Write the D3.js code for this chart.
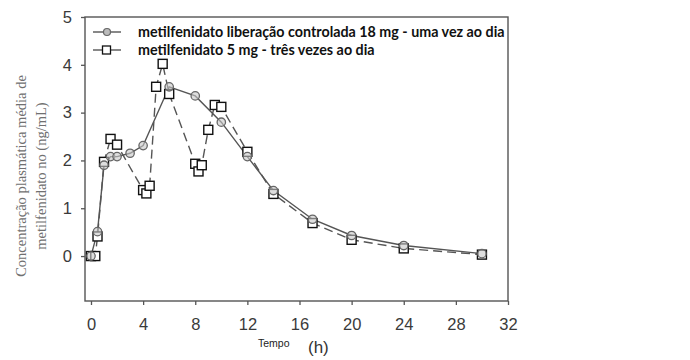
<!DOCTYPE html>
<html><head><meta charset="utf-8">
<script src="https://cdn.jsdelivr.net/npm/d3@7"></script>
<style>body{margin:0;background:#fff}svg{display:block}</style>
</head><body>
<script>
const timesCR = [0, 0.5, 1, 1.5, 2, 3, 4, 6, 8, 10, 12, 14, 17, 20, 24, 30];
const valuesCR = [0, 0.51, 1.9, 2.08, 2.08, 2.15, 2.31, 3.54, 3.35, 2.8, 2.08, 1.37, 0.77, 0.43, 0.22, 0.05];
const timesIR = [0, 0.33, 0.5, 1, 1.5, 2, 4, 4.25, 4.5, 5, 5.5, 6, 8, 8.25, 8.5, 9, 9.5, 10, 12, 14, 17, 20, 24, 30];
const valuesIR = [0, 0, 0.41, 1.97, 2.45, 2.33, 1.38, 1.31, 1.47, 3.54, 4.02, 3.39, 1.93, 1.77, 1.9, 2.64, 3.16, 3.12, 2.18, 1.3, 0.69, 0.34, 0.16, 0.03];
const xTicks = [0, 4, 8, 12, 16, 20, 24, 28, 32];
const yTicks = [0, 1, 2, 3, 4, 5];
const legendLabels = ["metilfenidato liberação controlada 18 mg - uma vez ao dia", "metilfenidato 5 mg - três vezes ao dia"];
const yTitleLines = ["Concentração plasmática média de", "metilfenidato no (ng/mL)"];
const xTitleMain = "Tempo";
const xTitleUnit = "(h)";

const W = 690, H = 360;
const L = 85, R = 508, T = 17, B = 301;
const svg = d3.select("body").append("svg").attr("width", W).attr("height", H);
const x = d3.scaleLinear().domain([-0.46, 32]).range([L, R]);
const y = d3.scaleLinear().domain([-0.94, 5]).range([B, T]);

// frame
svg.append("rect").attr("x", L).attr("y", T).attr("width", R - L).attr("height", B - T)
  .attr("fill", "none").attr("stroke", "#555").attr("stroke-width", 1.4);

// axes
const xAxis = svg.append("g").attr("transform", `translate(0,${B})`)
  .call(d3.axisBottom(x).tickValues(xTicks).tickSize(4).tickPadding(13).tickFormat(d3.format("d")));
const yAxis = svg.append("g").attr("transform", `translate(${L},0)`)
  .call(d3.axisLeft(y).tickValues(yTicks).tickSize(4).tickPadding(9).tickFormat(d3.format("d")));
[xAxis, yAxis].forEach(g => {
  g.select(".domain").remove();
  g.selectAll("line").attr("stroke", "#555").attr("stroke-width", 1.3);
  g.selectAll("text").attr("font-family", "'Liberation Sans', Arial, sans-serif")
    .attr("font-size", 16.5).attr("fill", "#3a3a3a");
});

// lines
const lineCR = d3.line().x((d, i) => x(timesCR[i])).y(d => y(d));
const lineIR = d3.line().x((d, i) => x(timesIR[i])).y(d => y(d));
svg.append("path").attr("d", lineIR(valuesIR)).attr("fill", "none")
  .attr("stroke", "#555").attr("stroke-width", 1.4).attr("stroke-dasharray", "9,5");
svg.append("path").attr("d", lineCR(valuesCR)).attr("fill", "none")
  .attr("stroke", "#555").attr("stroke-width", 1.4);

// markers
svg.append("g").selectAll("rect").data(valuesIR).join("rect")
  .attr("x", (d, i) => x(timesIR[i]) - 4.5).attr("y", d => y(d) - 4.5)
  .attr("width", 9).attr("height", 9).attr("fill", "#fff")
  .attr("stroke", "#111").attr("stroke-width", 1.4);
svg.append("g").selectAll("circle").data(valuesCR).join("circle")
  .attr("cx", (d, i) => x(timesCR[i])).attr("cy", d => y(d)).attr("r", 4.2)
  .attr("fill", "#c8c8c8").attr("fill-opacity", 0.6).attr("stroke", "#666").attr("stroke-width", 1.3);

// legend
const leg = svg.append("g");
const rowsY = [32, 50];
legendLabels.forEach((lab, i) => {
  const yy = rowsY[i];
  leg.append("line").attr("x1", 93).attr("x2", 121).attr("y1", yy).attr("y2", yy)
    .attr("stroke", "#555").attr("stroke-width", 1.4);
  if (i === 0) {
    leg.append("circle").attr("cx", 107).attr("cy", yy).attr("r", 3.5)
      .attr("fill", "#bbb").attr("stroke", "#666").attr("stroke-width", 1.2);
  } else {
    leg.append("rect").attr("x", 102.5).attr("y", yy - 4).attr("width", 8).attr("height", 8)
      .attr("fill", "#fff").attr("stroke", "#111").attr("stroke-width", 1.3);
  }
  leg.append("text").attr("x", 138).attr("y", yy + 5)
    .attr("font-family", "Lato, 'Open Sans', sans-serif").attr("font-weight", "bold")
    .attr("font-size", 14).attr("fill", "#111").text(lab);
});
// fit legend text to reference width
const legTexts = leg.selectAll("text").nodes();
const targetW = 367;
const w0 = legTexts[0].getComputedTextLength();
const fs = 14 * targetW / w0;
legTexts.forEach(n => d3.select(n).attr("font-size", fs));

// y title
const yt = svg.append("text").attr("transform", "translate(0,176) rotate(-90)")
  .attr("text-anchor", "middle").attr("font-family", "'Liberation Serif', 'Times New Roman', serif")
  .attr("font-size", 14.5).attr("fill", "#707070");
yt.append("tspan").attr("x", 0).attr("y", 26).text(yTitleLines[0]);
yt.append("tspan").attr("x", 0).attr("y", 46).text(yTitleLines[1]);

// x title
svg.append("text").attr("x", 258).attr("y", 347).attr("font-family", "'Liberation Sans', Arial, sans-serif")
  .attr("font-size", 10.5).attr("fill", "#222").text(xTitleMain);
svg.append("text").attr("x", 308).attr("y", 353).attr("font-family", "'Liberation Sans', Arial, sans-serif")
  .attr("font-size", 17).attr("fill", "#333").text(xTitleUnit);
</script>
</body></html>
